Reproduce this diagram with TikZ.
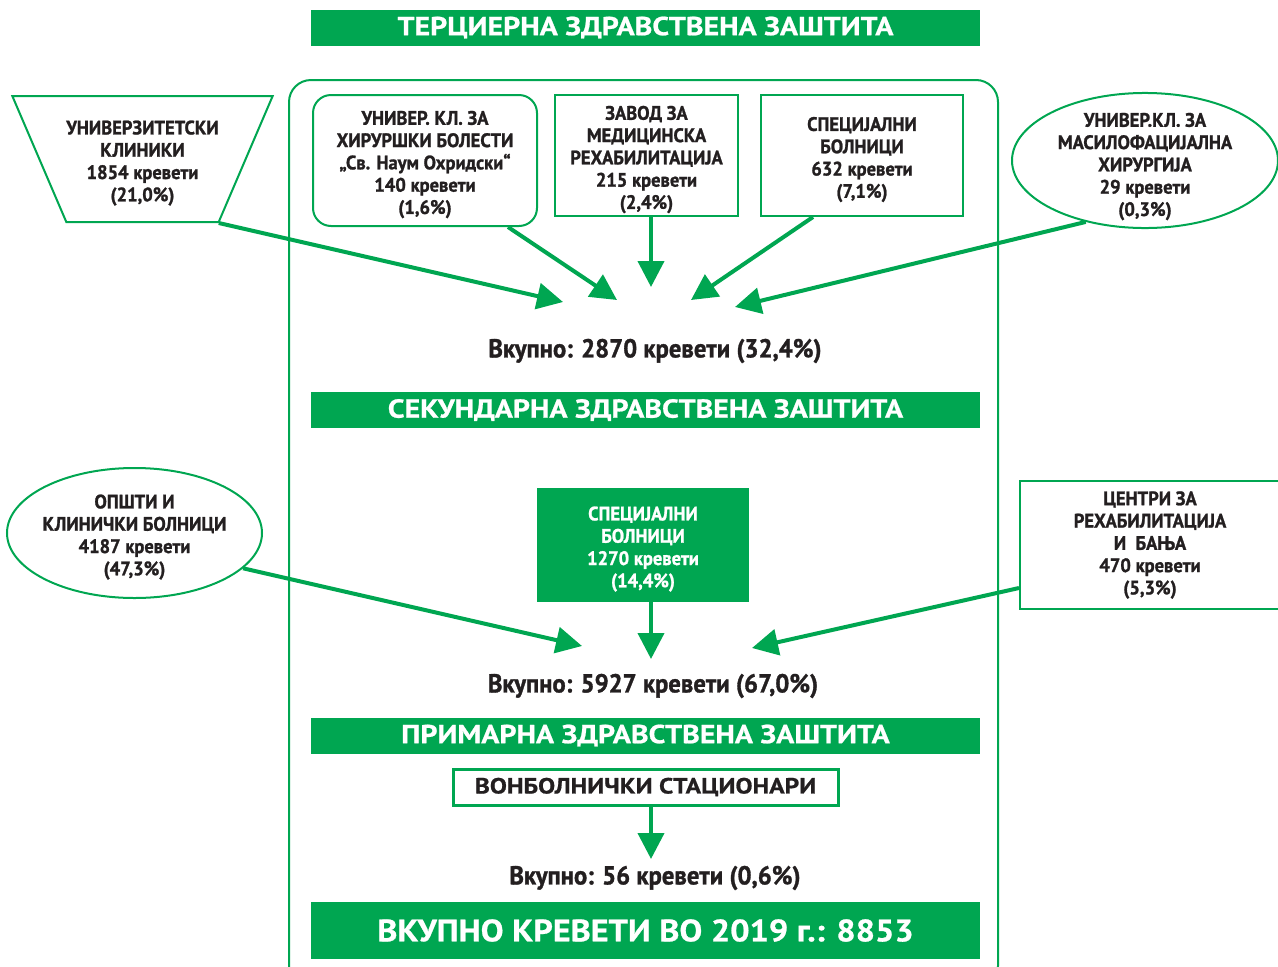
\documentclass[tikz,border=0pt]{standalone}
\usepackage{fontspec}
\setmainfont{PT Sans}
\newfontfamily\condf{PT Sans}[FakeStretch=0.95, FakeBold=1.2]
\newfontfamily\totf{PT Sans}[FakeStretch=0.95, FakeBold=1.2]
\newfontfamily\banf{PT Sans}[FakeStretch=1.15, FakeBold=0.8]
\newfontfamily\bigf{PT Sans}[FakeStretch=1.1, FakeBold=0.8]
\newfontfamily\vbf{PT Sans}[FakeStretch=1.16, FakeBold=0.8]
\newcommand\firstln{\rule{0pt}{22pt}}
\usetikzlibrary{shapes.geometric,arrows.meta}
\definecolor{grn}{HTML}{00A651}
\definecolor{ink}{HTML}{231F20}
\begin{document}
\begin{tikzpicture}[x=1pt,y=-1pt,
  banner/.style={fill=grn, draw=none, text=white, font=\banf\bfseries\fontsize{26}{30}\selectfont, minimum width=669pt, minimum height=36pt, inner sep=0pt},
  lbl/.style={text=ink, align=center, font=\condf\bfseries\fontsize{19.5}{22.3}\selectfont, inner sep=0pt},
  box/.style={lbl, draw=grn, line width=2pt},
  flow/.style={draw=grn, line width=4pt, -{Triangle[length=26pt,width=26pt]}},
  total/.style={text=ink, font=\totf\bfseries\fontsize{26}{28}\selectfont, inner sep=0pt}]
\useasboundingbox (0,0) rectangle (1278,967);
% frame
\draw[grn, line width=2pt, rounded corners=22pt] (289,80) rectangle (998,988);
% banners
\node[banner] (b1) at (645.5,27.5) {ТЕРЦИЕРНА ЗДРАВСТВЕНА ЗАШТИТА};
\node[banner] (b2) at (645.5,410) {СЕКУНДАРНА ЗДРАВСТВЕНА ЗАШТИТА};
\node[banner] (b3) at (645.5,735.5) {ПРИМАРНА ЗДРАВСТВЕНА ЗАШТИТА};
\node[banner, minimum height=57pt, font=\bigf\bfseries\fontsize{31}{34}\selectfont] (b4) at (645.5,930.5) {ВКУПНО КРЕВЕТИ ВО 2019 г.: 8853};
% tertiary sources
\node[box, trapezium, shape border rotate=180, trapezium angle=58, trapezium stretches body, inner ysep=-3.4pt, minimum width=257pt, minimum height=126pt] (trap) at (142.5,159) {\firstln УНИВЕРЗИТЕТСКИ\\КЛИНИКИ\\1854 кревети\\(21,0\%)};
\node[box, rounded corners=18pt, minimum width=224pt, minimum height=131pt] (n1) at (425,160.5) {\firstln УНИВЕР. КЛ. ЗА\\ХИРУРШКИ БОЛЕСТИ\\„Св. Наум Охридски“\\140 кревети\\(1,6\%)};
\node[box, minimum width=183pt, minimum height=121pt] (n2) at (646.5,155.5) {\firstln ЗАВОД ЗА\\МЕДИЦИНСКА\\РЕХАБИЛИТАЦИЈА\\215 кревети\\(2,4\%)};
\node[box, minimum width=202pt, minimum height=121pt] (n3) at (862,155.5) {\firstln СПЕЦИЈАЛНИ\\БОЛНИЦИ\\632 кревети\\(7,1\%)};
\node[box, ellipse, inner sep=-12pt, minimum width=266pt, minimum height=129pt] (e1) at (1145,160.5) {\rule{0pt}{26pt}УНИВЕР.КЛ. ЗА\\МАСИЛОФАЦИЈАЛНА\\ХИРУРГИЈА\\29 кревети\\(0,3\%)};
\coordinate (t1) at (563,302);
\coordinate (t2) at (617,300);
\coordinate (t3) at (651,287);
\coordinate (t4) at (691,300);
\coordinate (t5) at (735,307);
\draw[flow] (trap.-40) -- (t1);
\draw[flow] ([xshift=83pt]n1.south) -- (t2);
\draw[flow] ([xshift=4.5pt]n2.south) -- (t3);
\draw[flow] ([xshift=-49pt]n3.south) -- (t4);
\draw[flow] (e1.226) -- (t5);
\node[total] (tot1) at (655,351) {Вкупно: 2870 кревети (32,4\%)};
% secondary sources
\node[box, ellipse, inner sep=-12pt, minimum width=255pt, minimum height=130pt] (e2) at (134.5,533) {\firstln ОПШТИ И\\КЛИНИЧКИ БОЛНИЦИ\\4187 кревети\\(47,3\%)};
\node[lbl, fill=grn, text=white, minimum width=212pt, minimum height=114pt] (fr) at (643,545) {\firstln СПЕЦИЈАЛНИ\\БОЛНИЦИ\\1270 кревети\\(14,4\%)};
\node[box, minimum width=260pt, minimum height=128pt] (rr) at (1150,545) {ЦЕНТРИ ЗА\\РЕХАБИЛИТАЦИЈА\\И~~БАЊА\\470 кревети\\(5,3\%)};
\coordinate (u1) at (582,646);
\coordinate (u2) at (651,659);
\coordinate (u3) at (752,648);
\draw[flow] (e2.342) -- (u1);
\draw[flow] ([xshift=8pt]fr.south) -- (u2);
\draw[flow] ([yshift=-43pt]rr.west) -- (u3);
\node[total] (tot2) at (653,686) {Вкупно: 5927 кревети (67,0\%)};
% primary
\node[box, line width=3pt, font=\vbf\bfseries\fontsize{22}{26}\selectfont, minimum width=385pt, minimum height=36pt] (vb) at (645.5,787) {ВОНБОЛНИЧКИ СТАЦИОНАРИ};
\coordinate (v1) at (651,859);
\draw[flow] ([xshift=5.5pt]vb.south) -- (v1);
\node[total] (tot3) at (655,878) {Вкупно: 56 кревети (0,6\%)};
\end{tikzpicture}
\end{document}
